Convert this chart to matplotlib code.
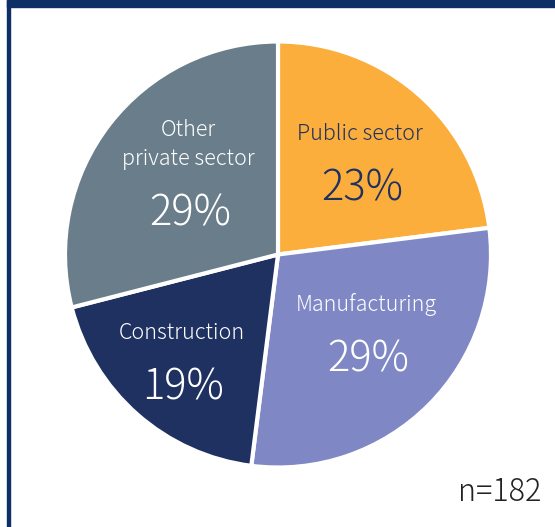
import matplotlib.pyplot as plt
import numpy as np

# data
sectors = ['Public sector', 'Manufacturing', 'Construction', 'Other\nprivate sector']
shares = [23, 29, 19, 29]
colors = ['#FBAE3C', '#7F88C5', '#1F3161', '#6A7D8A']
text_colors = ['#1F3161', 'white', 'white', 'white']
n_total = 182

plt.rcParams['font.family'] = ['Noto Sans CJK JP', 'DejaVu Sans']

fig = plt.figure(figsize=(5.55, 5.27), dpi=100)
ax = fig.add_axes([0, 0, 1, 1])

cx, cy, r = 278, 272.5, 213
wedges, _ = ax.pie(shares, colors=colors, startangle=90, counterclock=False,
                   center=(cx, cy), radius=r, frame=True,
                   wedgeprops=dict(edgecolor='white', linewidth=3))
ax.set_xlim(0, 555)
ax.set_ylim(0, 527)
ax.set_aspect('equal')
ax.axis('off')

# label placement (fraction of radius, angle offset in degrees)
place = [(0.595, 1), (0.54, 5), (0.66, -2), (0.54, -1)]
for w, name, val, tc, (f, da) in zip(wedges, sectors, shares, text_colors, place):
    mid = np.deg2rad((w.theta1 + w.theta2) / 2 + da)
    x = cx + f * r * np.cos(mid)
    y = cy + f * r * np.sin(mid)
    ax.text(x, y + 17.5, name, ha='center', va='baseline', color=tc, fontsize=15.5,
            linespacing=1.42, fontweight='light')
    ax.text(x + 2, y - 43, f'{val}%', ha='center', va='baseline', color=tc, fontsize=30,
            fontweight='light')

ax.text(541, 35, f'n={n_total}', ha='right', va='center', fontsize=22, color='#222222',
        fontweight='light')

# frame
fig.patches.append(plt.Rectangle((7 / 555, 1 - 7 / 527), 1, 7 / 527, transform=fig.transFigure,
                                 color='#0E2F66', zorder=5))
fig.patches.append(plt.Rectangle((7 / 555, 0), 3 / 555, 1, transform=fig.transFigure,
                                 color='#0E2F66', zorder=5))

fig.savefig('out.png', dpi=100)
